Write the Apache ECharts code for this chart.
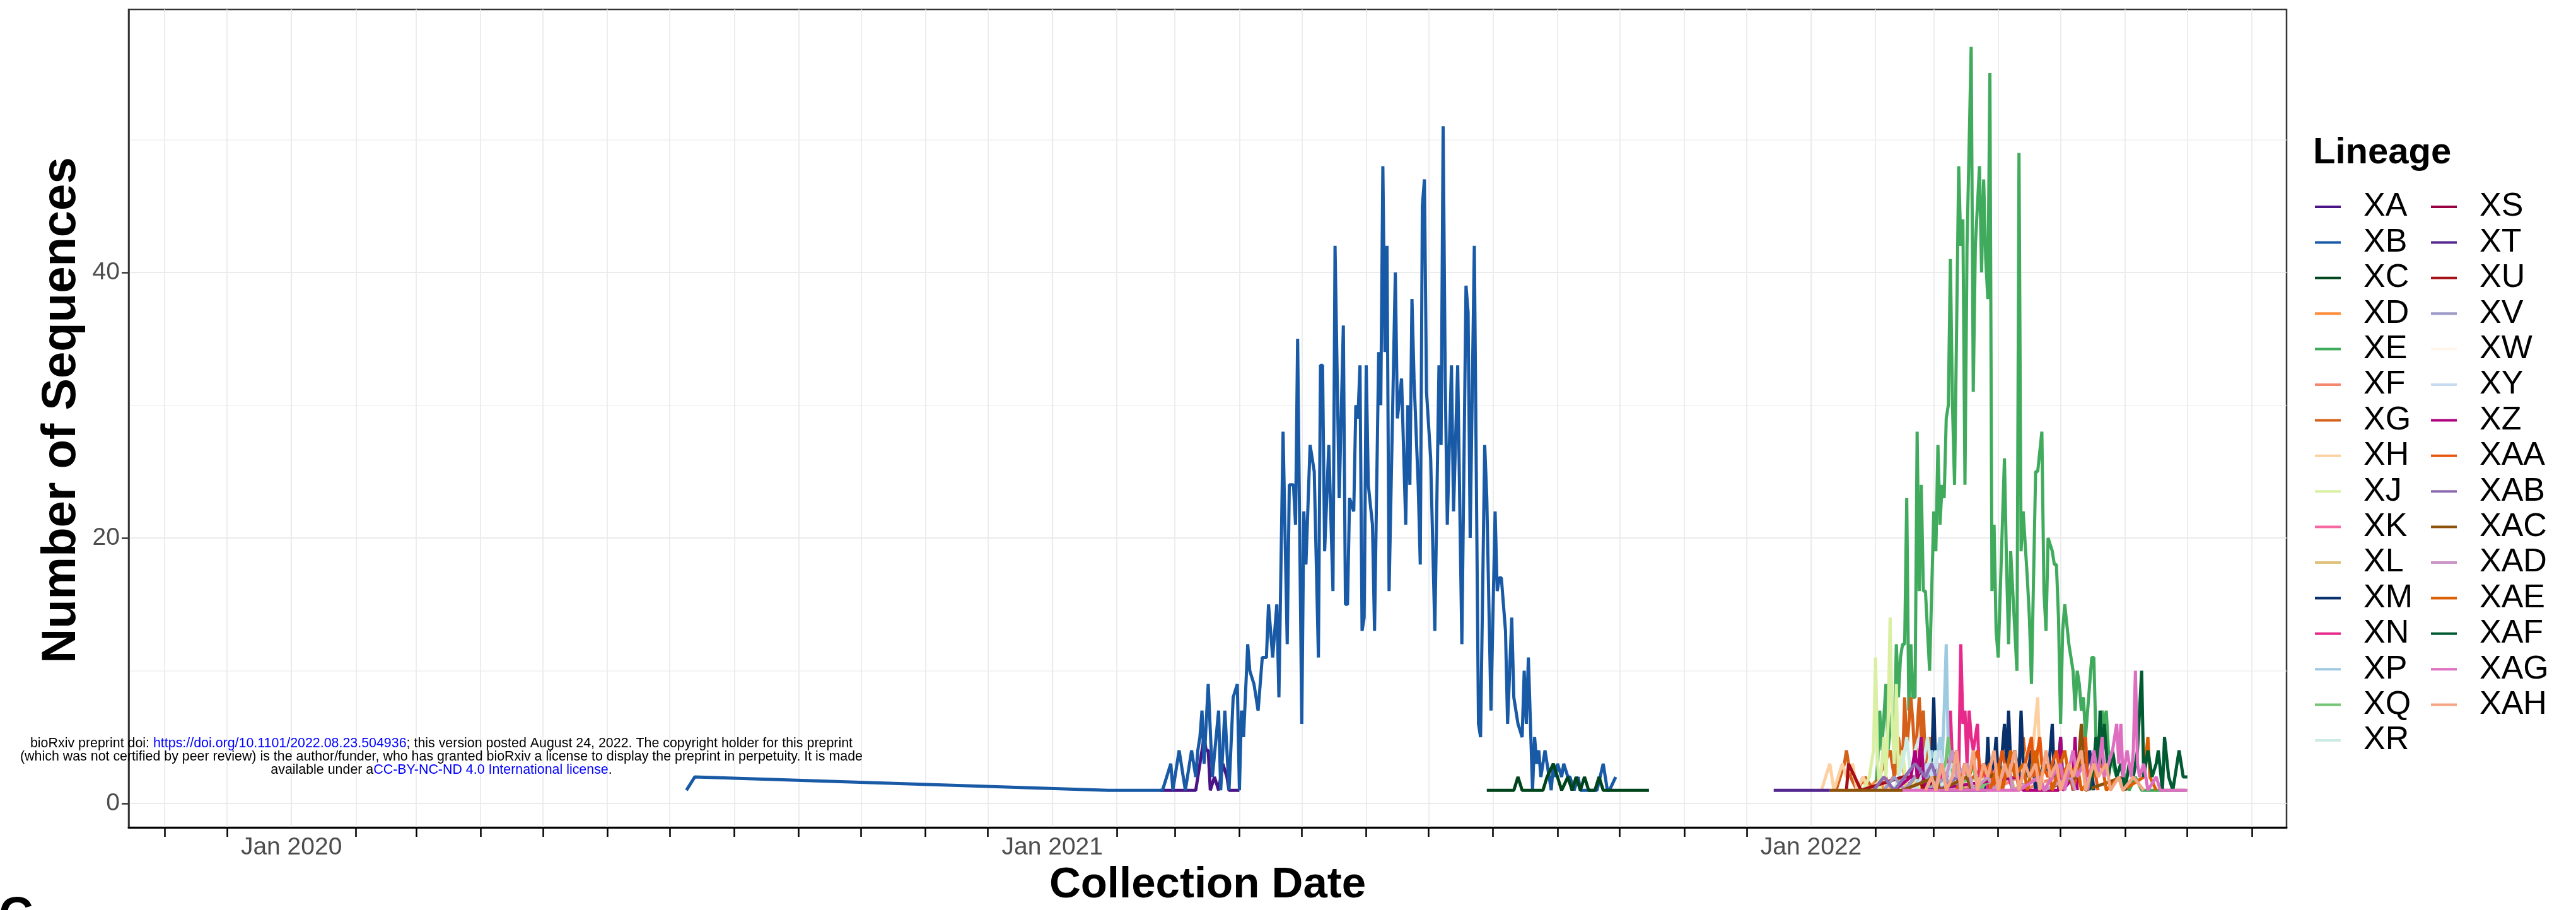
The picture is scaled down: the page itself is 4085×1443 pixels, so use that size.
<!DOCTYPE html>
<html>
<head>
<meta charset="utf-8">
<script src="https://cdn.jsdelivr.net/npm/echarts@6/dist/echarts.min.js"></script>
<style>
  html, body { margin: 0; padding: 0; background: #fff; }
  #chart { width: 4085px; height: 1443px; }
</style>
</head>
<body>
<div id="chart"></div>
<script>
// days are counted from Jan 1 of the lineage's base year (2021 for XA/XB/XC, 2022 for the rest)
const lineages = ['XA','XB','XC','XD','XE','XF','XG','XH','XJ','XK','XL','XM','XN','XP','XQ','XR',
                  'XS','XT','XU','XV','XW','XY','XZ','XAA','XAB','XAC','XAD','XAE','XAF','XAG','XAH'];
const lineColors = ['#4a1486','#195aa6','#00441b','#fd8d3c','#41ab5d','#f4876e','#d4601a','#fdd0a2',
                    '#d9f0a3','#f768a1','#dfc27d','#08306b','#e7298a','#9ecae1','#74c476','#ccebe5',
                    '#980043','#54278f','#a50f15','#9e9ac8','#fff5eb','#c6dbef','#ae017e','#e6550d',
                    '#8c6bb1','#8c510a','#c994c7','#d95f02','#005a32','#de6fc0','#f4a582'];
const from2021 = ['XA','XB','XC'];

const XA = [[52,1],[66,1],[69,1],[71,3],[73,5],[74,4],[75,4],[76,1],[78,2],[80,1],[82,3],[84,2],[85,1],[90,1]];
const XB = [[-176,1],[-172,2],[27,1],[40,1],[53,1],[57,3],[58,1],[61,4],[64,1],[67,4],[69,2],[70,4],[71,5],[72,7],
  [73,3],[75,9],[77,2],[80,7],[81,1],[83,7],[85,1],[87,8],[89,9],[90,1],[91,7],[92,5],[94,12],[95,10],[97,9],[99,7],
  [101,11],[103,11],[104,15],[106,11],[108,15],[109,8],[111,28],[113,12],[114,24],[116,24],[117,21],[118,35],[120,6],
  [121,22],[122,18],[124,27],[126,25],[128,11],[129,33],[130,33],[131,19],[133,27],[135,16],[136,42],[138,23],[140,36],
  [141,15],[142,15],[143,23],[145,22],[146,30],[147,29],[148,33],[149,13],[150,14],[151,33],[152,24],[154,21],[155,13],
  [157,34],[158,30],[159,48],[160,34],[161,42],[162,16],[165,40],[166,29],[168,32],[170,21],[171,30],[172,24],[173,38],
  [174,32],[175,28],[176,24],[177,18],[178,45],[179,47],[180,31],[182,26],[184,13],[186,33],[187,27],[188,51],[189,32],
  [190,21],[192,33],[193,22],[195,33],[197,12],[199,39],[200,37],[201,20],[203,42],[205,6],[206,5],[208,27],[209,23],
  [211,7],[213,22],[214,16],[215,17],[216,17],[218,13],[219,6],[221,14],[222,8],[224,6],[226,5],[227,10],[228,6],
  [229,11],[231,1],[232,5],[233,3],[234,4],[235,2],[237,4],[238,3],[240,1],[241,3],[242,2],[243,3],[245,2],[246,3],
  [248,2],[249,2],[251,1],[253,2],[254,1],[258,1],[262,1],[265,3],[267,1],[268,1],[271,2]];
const XC = [[209,1],[222,1],[224,2],[226,1],[236,1],[238,2],[241,3],[243,2],[245,1],[248,2],[250,1],[252,2],[254,1],
  [256,2],[258,1],[261,1],[263,2],[265,1],[287,1]];
const XD = [[22,1],[25,2],[27,1],[33,2],[35,1],[44,3],[46,1],[50,2],[52,1],[58,2],[60,1],[66,3],[68,1],[75,2],[77,1]];
const XE = [[31,1],[32,3],[33,7],[34,4],[36,9],[37,4],[39,7],[40,5],[41,12],[42,8],[43,11],[44,12],[45,12],[46,23],
  [47,7],[48,12],[49,8],[50,8],[51,28],[52,16],[53,24],[54,16],[55,16],[56,13],[57,10],[59,22],[60,19],[61,27],[62,21],
  [63,24],[64,23],[65,29],[66,30],[67,41],[68,30],[69,24],[71,48],[72,42],[73,44],[74,24],[75,42],[77,57],[78,31],
  [79,42],[81,48],[82,40],[83,47],[84,41],[85,38],[86,55],[87,16],[88,21],[89,13],[90,11],[91,16],[93,26],[94,18],
  [95,12],[96,19],[97,16],[99,10],[100,49],[101,19],[102,22],[104,17],[105,14],[106,9],[108,25],[109,25],[111,28],
  [112,16],[113,13],[114,20],[116,19],[117,18],[118,18],[119,14],[120,6],[121,13],[122,15],[124,12],[126,10],[127,7],
  [128,10],[129,9],[130,7],[131,8],[132,5],[133,7],[135,11],[136,11],[137,5],[139,5],[140,7],[141,6],[142,7],[143,4],
  [145,3],[147,2],[149,3],[151,2],[153,1],[156,2],[159,1],[163,1],[170,1],[180,1]];
const XF = [[30,1],[36,2],[38,1],[55,2],[57,1],[70,3],[72,1],[85,2],[87,1],[100,2],[102,1],[118,2],[120,1]];
const XG = [[12,1],[16,3],[17,4],[19,2],[22,1],[26,2],[30,1],[38,4],[40,2],[42,5],[44,3],[45,8],[46,4],[48,8],[49,6],
  [50,3],[52,8],[53,5],[54,7],[55,3],[57,5],[58,2],[60,4],[62,1],[70,2],[72,1],[84,3],[86,1],[100,3],[102,5],[104,2],
  [106,4],[108,1]];
const XH = [[5,1],[7,2],[9,3],[11,1],[13,2],[15,3],[17,2],[20,3],[22,1],[25,2],[28,1],[35,2],[37,1],[60,2],[62,1],
  [100,2],[104,4],[106,3],[109,8],[110,3],[112,1],[125,2],[127,1]];
const XJ = [[25,1],[28,2],[30,4],[31,11],[32,3],[33,1],[35,5],[36,2],[37,6],[38,14],[39,6],[40,3],[41,9],[42,2],
  [44,4],[46,1],[50,2],[52,1]];
const XK = [[55,1],[58,2],[60,1],[64,3],[66,1],[70,4],[72,2],[74,3],[76,1],[80,2],[82,1],[88,3],[90,1]];
const XL = [[40,1],[44,2],[46,1],[55,2],[57,1],[68,3],[70,1],[82,2],[84,1],[96,2],[98,1]];
const XM = [[55,1],[58,3],[59,8],[60,2],[62,1],[84,1],[85,5],[86,2],[88,3],[89,5],[90,2],[92,4],[93,6],[94,3],[95,7],
  [96,3],[98,4],[100,2],[101,7],[102,3],[104,2],[106,4],[108,1],[112,3],[114,2],[116,6],[117,2],[119,3],[120,5],
  [121,2],[124,3],[126,1],[130,3],[132,2],[134,4],[136,1]];
const XN = [[62,1],[64,3],[66,2],[67,7],[68,3],[70,4],[71,2],[72,12],[73,6],[74,7],[75,3],[76,7],[77,5],[78,4],
  [80,6],[81,2],[83,3],[85,1],[95,2],[97,1]];
const XP = [[50,1],[54,3],[56,2],[58,4],[60,3],[62,5],[63,3],[64,7],[65,12],[66,4],[67,3],[69,2],[71,1]];
const XQ = [[58,1],[62,3],[64,2],[66,5],[68,2],[70,4],[72,1],[78,3],[80,1],[88,2],[90,1]];
const XR = [[40,1],[44,3],[46,5],[48,2],[50,4],[52,5],[54,3],[56,5],[58,2],[60,4],[62,1],[66,3],[68,1]];
const XS = [[45,1],[50,2],[52,2],[53,4],[54,2],[55,1],[60,2],[62,1]];
const XT = [[-18,1],[9,1]];
const XU = [[17,1],[18,3],[24,1],[44,2],[52,2],[54,1]];
const XV = [[35,1],[40,2],[45,1],[50,2],[55,3],[57,1],[65,2],[67,1],[75,3],[77,1]];
const XW = [[60,1],[90,2],[92,1]];
const XY = [[50,1],[56,3],[58,2],[62,4],[64,2],[68,3],[70,1]];
const XZ = [[40,1],[48,2],[50,4],[51,2],[53,5],[54,2],[56,1],[100,2],[102,1],[119,1],[120,5],[121,1],[126,2],
  [127,5],[128,1]];
const XAA = [[70,1],[74,3],[76,2],[80,4],[82,2],[86,3],[88,1],[92,4],[94,2],[98,3],[100,1],[106,5],[107,2],[110,5],
  [111,3],[114,2],[118,4],[120,2],[124,3],[126,1],[132,5],[133,2],[136,3],[138,1]];
const XAB = [[30,1],[35,2],[40,1],[45,2],[50,3],[55,2],[58,3],[62,1],[70,2],[72,1]];
const XAC = [[9,1],[44,1],[60,2],[62,1],[75,2],[77,1],[95,3],[97,1],[110,2],[112,1],[128,2],[130,6],[132,1],
  [150,2],[152,1]];
const XAD = [[60,1],[62,3],[65,2],[68,4],[70,2],[75,3],[78,1],[85,2],[88,1],[95,3],[97,1],[110,2],[112,1],[125,2],
  [127,1]];
const XAE = [[86,1],[90,3],[92,1],[96,4],[98,2],[102,3],[104,1],[108,4],[110,2],[114,3],[116,1],[122,4],[124,2],
  [128,3],[130,1],[140,3],[142,1],[148,2],[150,1],[160,2],[162,5],[163,2],[166,1]];
const XAF = [[134,1],[136,3],[137,5],[138,2],[139,7],[140,3],[141,6],[143,2],[145,4],[147,2],[149,3],[151,1],[153,3],
  [155,2],[157,4],[159,10],[160,2],[162,4],[164,2],[166,3],[167,4],[169,1],[170,5],[172,2],[174,1],[176,3],[177,4],
  [179,2],[181,2]];
const XAG = [[44,1],[80,1],[100,1],[110,2],[112,1],[120,3],[122,1],[126,4],[128,2],[131,3],[133,1],[136,4],[138,2],
  [140,5],[141,2],[143,3],[145,4],[147,6],[148,3],[149,6],[150,2],[152,4],[154,2],[155,4],[156,10],[157,3],[158,2],
  [160,3],[162,1],[166,2],[168,1],[175,1],[181,1]];
const XAH = [[55,1],[58,2],[60,1],[63,3],[65,1],[68,2],[70,4],[72,1],[74,3],[76,2],[78,4],[80,1],[83,3],[85,2],
  [88,4],[90,1],[93,3],[95,2],[98,4],[100,1],[103,3],[105,2],[108,3],[110,1],[113,4],[115,2],[118,3],[120,1],[124,3],
  [126,2],[130,4],[132,1],[136,3],[138,2],[142,3],[144,1],[148,2],[150,1],[155,2],[160,1]];

const counts = [XA,XB,XC,XD,XE,XF,XG,XH,XJ,XK,XL,XM,XN,XP,XQ,XR,XS,XT,XU,XV,XW,XY,XZ,XAA,XAB,XAC,XAD,XAE,XAF,XAG,XAH];

const yTickValues = [0, 20, 40];
const yMinorValues = [10, 30, 50];
const xLabelText = ['Jan 2020', 'Jan 2021', 'Jan 2022'];

const DAY = 86400000;
const FONT = '"Liberation Sans", Arial, Helvetica, sans-serif';

function toTime(name, d) {
  const base = from2021.indexOf(name) >= 0 ? new Date(2021, 0, 1) : new Date(2022, 0, 1);
  return base.getTime() + d * DAY;
}

// month starts Nov 2019 .. Aug 2022
const monthTicks = [], janTicks = [];
for (let y = 2019, m = 10; y < 2022 || m <= 7; m++) {
  if (m > 11) { m = 0; y++; }
  const t = new Date(y, m, 1).getTime();
  if (m === 0) janTicks.push(t); else monthTicks.push(t);
}

const xMin = new Date(2021, 0, 1).getTime() - 444.3 * DAY;
const xMax = new Date(2021, 0, 1).getTime() + 593.7 * DAY;

const chart = echarts.init(document.getElementById('chart'), null, { renderer: 'canvas' });

const legendBase = {
  orient: 'vertical', top: 302, padding: 0,
  itemWidth: 41, itemHeight: 4, itemGap: 4.4, icon: 'rect',
  selectedMode: false,
  textStyle: { fontFamily: FONT, fontSize: 52, color: '#000', padding: [0, 0, 0, 31] }
};

const option = {
  backgroundColor: '#fff',
  animation: false,
  title: {
    text: 'Lineage', left: 3668, top: 214, padding: 0,
    textStyle: { fontFamily: FONT, fontSize: 58, fontWeight: 'bold', color: '#000' }
  },
  legend: [
    Object.assign({}, legendBase, { left: 3671, data: lineages.slice(0, 16) }),
    Object.assign({}, legendBase, { left: 3855, data: lineages.slice(16) })
  ],
  grid: {
    left: 204, top: 15, width: 3422, height: 1299,
    show: true, borderColor: '#333', borderWidth: 2.5, backgroundColor: 'transparent'
  },
  xAxis: [{
    type: 'value', min: xMin, max: xMax,
    axisLine: { show: true, onZero: false, lineStyle: { color: '#000', width: 3 } },
    axisTick: { show: true, customValues: monthTicks, length: 15, lineStyle: { color: '#000', width: 2.5 } },
    axisLabel: {
      customValues: janTicks,
      formatter: function (v) { return xLabelText[janTicks.indexOf(v)] || ''; },
      fontFamily: FONT, fontSize: 39, color: '#4d4d4d', margin: 13
    },
    splitLine: { show: true, lineStyle: { color: '#ebebeb', width: 1.8 } },
    name: 'Collection Date', nameLocation: 'middle', nameGap: 46,
    nameTextStyle: { fontFamily: FONT, fontSize: 69, fontWeight: 'bold', color: '#000' }
  }, {
    type: 'value', min: xMin, max: xMax, position: 'bottom',
    axisLine: { show: false, onZero: false }, axisLabel: { show: false },
    axisTick: { show: false, customValues: janTicks },
    splitLine: { show: true, lineStyle: { color: '#ebebeb', width: 2.2 } }
  }],
  yAxis: [{
    type: 'value', min: -1.8, max: 59.8,
    axisLine: { show: true, onZero: false, lineStyle: { color: '#333', width: 2.5 } },
    axisTick: { show: true, customValues: yTickValues, length: 11, lineStyle: { color: '#333', width: 2.5 } },
    axisLabel: { customValues: yTickValues, fontFamily: FONT, fontSize: 39, color: '#4d4d4d', margin: 14 },
    splitLine: { show: true, lineStyle: { color: '#ebebeb', width: 2.2 } },
    name: 'Number of Sequences', nameLocation: 'middle', nameGap: 60,
    nameTextStyle: { fontFamily: FONT, fontSize: 76, fontWeight: 'bold', color: '#000', padding: [0, 0, 0, 26] }
  }, {
    type: 'value', min: -1.8, max: 59.8, position: 'left',
    axisLine: { show: false, onZero: false }, axisLabel: { show: false },
    axisTick: { show: false, customValues: yMinorValues },
    splitLine: { show: true, lineStyle: { color: '#f1f1f1', width: 1.5 } }
  }],
  series: lineages.map(function (name, i) {
    return {
      name: name, type: 'line', symbol: 'none', showSymbol: false,
      data: counts[i].map(function (p) { return [toTime(name, p[0]), p[1]]; }),
      lineStyle: { color: lineColors[i], width: 5 },
      itemStyle: { color: lineColors[i] },
      emphasis: { disabled: true }
    };
  }),
  graphic: [{
    type: 'text', x: 700, y: 1200, z: 100,
    style: {
      text: '{k|bioRxiv preprint doi: }{b|https://doi.org/10.1101/2022.08.23.504936}{k|; this version posted August 24, 2022. The copyright holder for this preprint}\n' +
            '{k|(which was not certified by peer review) is the author/funder, who has granted bioRxiv a license to display the preprint in perpetuity. It is made}\n' +
            '{k|available under a}{b|CC-BY-NC-ND 4.0 International license}{k|.}',
      align: 'center', verticalAlign: 'middle',
      fontFamily: FONT, fontSize: 21.4, lineHeight: 21,
      rich: {
        k: { fontFamily: FONT, fontSize: 21.4, lineHeight: 21, fill: '#000' },
        b: { fontFamily: FONT, fontSize: 21.4, lineHeight: 21, fill: '#0000ff' }
      }
    }
  }, {
    type: 'text', x: -2, y: 1416, z: 100,
    style: { text: 'C', fontFamily: FONT, fontSize: 76, fontWeight: 'bold', fill: '#000', verticalAlign: 'top' }
  }]
};

chart.setOption(option);
</script>
</body>
</html>
